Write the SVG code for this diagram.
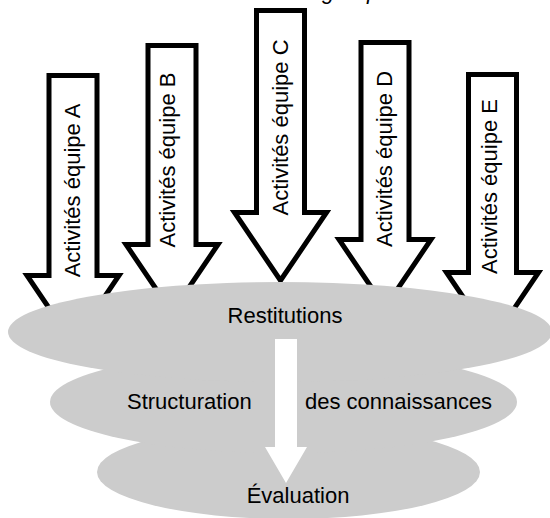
<svg xmlns="http://www.w3.org/2000/svg" width="550" height="518" viewBox="0 0 550 518">
<style>
.arrow{fill:#ffffff;stroke:#000000;stroke-width:5;stroke-linejoin:miter;stroke-miterlimit:10}
.cloud{fill:#cccccc;stroke:none}
.lbl{font-family:"Liberation Sans",Arial,sans-serif;font-size:22px;fill:#000000}
.vl{font-family:"Liberation Sans",Arial,sans-serif;font-size:22px;fill:#000000;text-anchor:middle}
.ttl{font-family:"Liberation Sans",Arial,sans-serif;font-size:22px;font-style:italic;fill:#000000}
</style>
<rect width="550" height="518" fill="#ffffff"/>
<text class="ttl" y="-1"><tspan x="322">g</tspan><tspan x="367">p</tspan></text>
<g id="connectors">
<g id="arrowA"><path class="arrow" d="M49,75.5 H97 V275.5 H119 L73,343.5 L27,275.5 H49 Z"/><text class="vl" transform="translate(80,190.5) rotate(-90)">Activités équipe A</text></g>
<g id="arrowB"><path class="arrow" d="M148,45.5 H196 V244.5 H218 L172,312.5 L126,244.5 H148 Z"/><text class="vl" transform="translate(175,160) rotate(-90)">Activités équipe B</text></g>
<g id="arrowC"><path class="arrow" d="M256.5,10.5 H304.5 V212.5 H326.5 L280.5,280.5 L234.5,212.5 H256.5 Z"/><text class="vl" transform="translate(288,127.5) rotate(-90)">Activités équipe C</text></g>
<g id="arrowD"><path class="arrow" d="M361,42.5 H409 V239.5 H431 L385,307.5 L339,239.5 H361 Z"/><text class="vl" transform="translate(392,159) rotate(-90)">Activités équipe D</text></g>
<g id="arrowE"><path class="arrow" d="M468.5,74.5 H516.5 V272.5 H538.5 L492.5,340.5 L446.5,272.5 H468.5 Z"/><text class="vl" transform="translate(497,186.5) rotate(-90)">Activités équipe E</text></g>
</g>
<g id="evaluation"><ellipse class="cloud" cx="288.5" cy="472" rx="191.5" ry="47"/></g>
<g id="structuration"><ellipse class="cloud" cx="283.5" cy="402" rx="233.5" ry="51"/></g>
<g id="restitutions"><ellipse class="cloud" cx="280" cy="332" rx="272" ry="50"/></g>
<g id="flow"><polygon fill="#ffffff" points="275,339 297,339 297,447 307,447 286,483 265,447 275,447"/></g>
<g id="labels">
<text class="lbl" x="285" y="323" text-anchor="middle">Restitutions</text>
<text class="lbl" x="127" y="409">Structuration</text>
<text class="lbl" x="305" y="409">des connaissances</text>
<text class="lbl" x="298" y="503" text-anchor="middle">Évaluation</text>
</g>
</svg>
